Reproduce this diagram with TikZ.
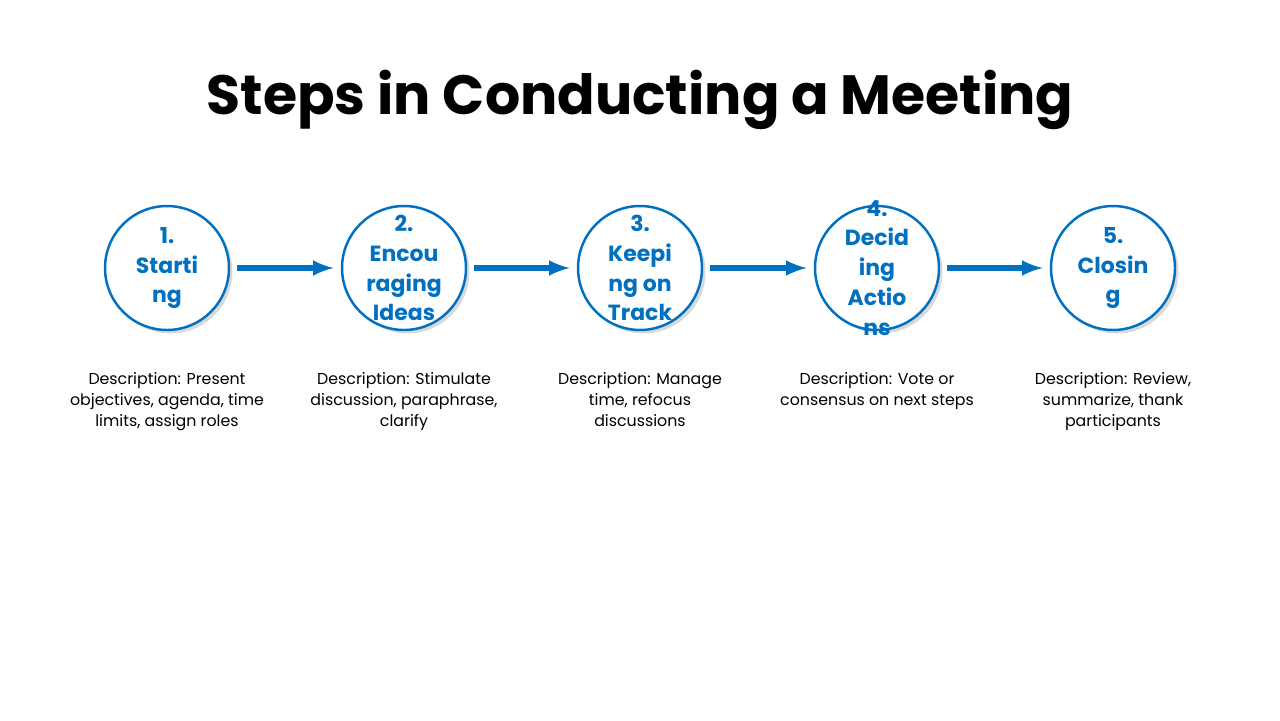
\documentclass[tikz,border=0pt]{standalone}
\usepackage{fontspec}
\setmainfont{Poppins}
\usetikzlibrary{positioning,shadows}
\definecolor{stepblue}{HTML}{0070C0}

\begin{document}
\begin{tikzpicture}[
    x=0.02cm, y=-0.02cm,
    stage/.style={circle, draw=stepblue, fill=white, line width=1.4pt, minimum size=2.48cm, inner sep=0pt,
        drop shadow={shadow xshift=2pt, shadow yshift=-2pt, opacity=0.3},
        label={[text=stepblue, font=\fontsize{12.5}{17}\selectfont\bfseries, align=center]center:#1}},
    descr/.style={font=\fontsize{9}{12}\selectfont, align=center, anchor=north},
    arrow/.style={-latex, stepblue, line width=3pt, shorten <=4pt, shorten >=4pt}
]
\useasboundingbox (0,0) rectangle (1280,720);

% Title
\node[font=\fontsize{31.5}{36}\selectfont\bfseries] (title) at (640,100) {Steps in Conducting a Meeting};

% Step circles
\node[stage={1.\\Starti\\ng}] (s1) at (167,268) {};
\node[stage={2.\\Encou\\raging\\Ideas}] (s2) at (404,268) {};
\node[stage={3.\\Keepi\\ng on\\Track}] (s3) at (640,268) {};
\node[stage={4.\\Decid\\ing\\Actio\\ns}] (s4) at (877,268) {};
\node[stage={5.\\Closin\\g}] (s5) at (1113,268) {};

% Descriptions
\node[descr] (d1) at (167,366) {Description: Present\\objectives, agenda, time\\limits, assign roles};
\node[descr] (d2) at (404,366) {Description: Stimulate\\discussion, paraphrase,\\clarify};
\node[descr] (d3) at (640,366) {Description: Manage\\time, refocus\\discussions};
\node[descr] (d4) at (877,366) {Description: Vote or\\consensus on next steps};
\node[descr] (d5) at (1113,366) {Description: Review,\\summarize, thank\\participants};

% Arrows
\draw[arrow] (s1) -- (s2);
\draw[arrow] (s2) -- (s3);
\draw[arrow] (s3) -- (s4);
\draw[arrow] (s4) -- (s5);

\end{tikzpicture}
\end{document}
